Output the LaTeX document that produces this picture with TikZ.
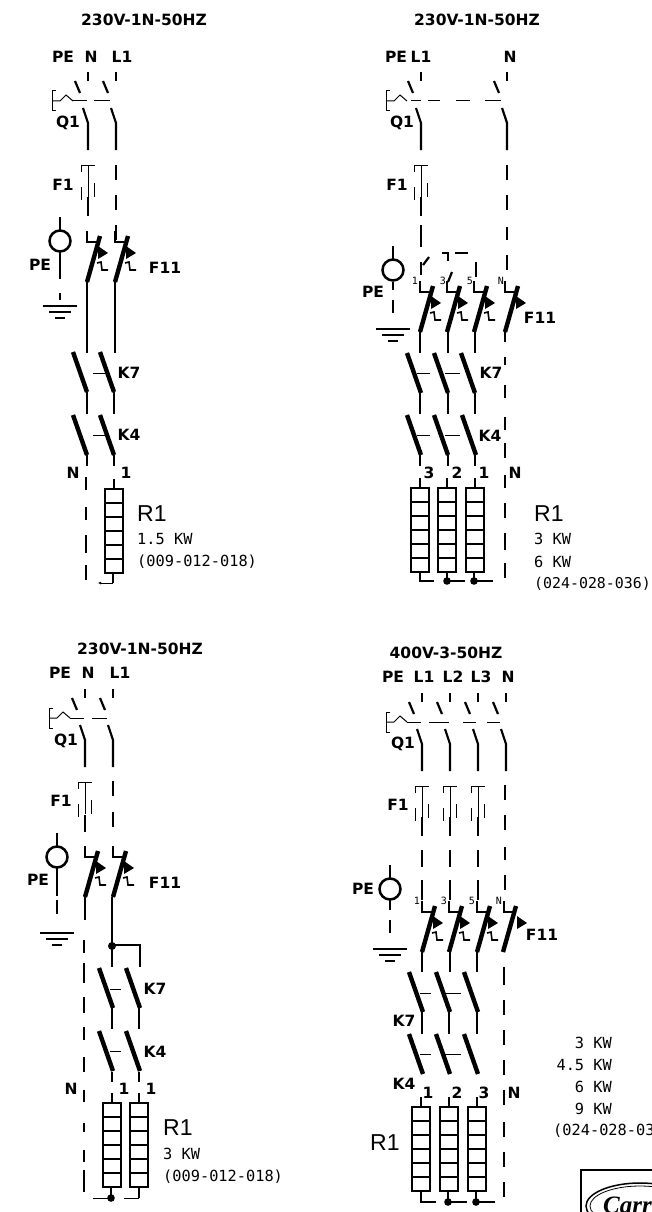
\documentclass[tikz,border=0pt]{standalone}
\usepackage{fontspec}
\usetikzlibrary{arrows.meta}
\setmainfont{DejaVu Sans}
\newfontfamily\monof{DejaVu Sans Mono}
\newfontfamily\rfont{Liberation Sans}
\newfontfamily\logof{Liberation Serif}
\tikzset{
 lab/.style={inner sep=0pt,font=\fontsize{15.5}{17}\selectfont\bfseries},
 big/.style={inner sep=0pt,anchor=west,font=\rfont\fontsize{23}{25}\selectfont},
 val/.style={inner sep=0pt,anchor=west,font=\monof\fontsize{15.3}{17}\selectfont},
 tiny/.style={inner sep=0pt,font=\monof\fontsize{10}{10}\selectfont},
 thn/.style={line width=1pt},
 med/.style={line width=2.2pt},
 thk/.style={line width=4.4pt},
}
% Q1 pole: stub, slanted contact, curved lower contact
\newcommand\qpole[2]{%
 \draw[med] (#1,#2)--(#1,#2+9);
 \draw[med] (#1-13,#2+9)--(#1-8,#2+21);
 \draw[med] (#1-5,#2+36)--(#1,#2+51)--(#1,#2+78);}
% Q1 handle: bracket and wave
\newcommand\qhead[2]{%
 \draw[thn] (#1+4,#2-10)--(#1,#2-10)--(#1,#2+10)--(#1+4,#2+10);
 \draw[thn] (#1,#2)--(#1+8,#2)--(#1+14,#2-6)--(#1+21,#2);}
% fuse
\newcommand\fuse[2]{%
 \draw[thn] (#1-7,#2+7)--(#1-7,#2)--(#1+7,#2);
 \draw[thn] (#1,#2)--(#1,#2+32);
 \draw[thn] (#1-7,#2+22)--(#1-7,#2+35);
 \draw[thn] (#1+6,#2+18)--(#1+6,#2+32);}
% breaker of F11, #2 = lower end
\newcommand\brkr[2]{%
 \draw[med] (#1,#2-51)--(#1,#2-40)--(#1+10,#2-40);
 \draw[thk] (#1,#2)--(#1+13,#2-46);
 \fill (#1+21,#2-29)--(#1+11,#2-36)--(#1+11,#2-23)--cycle;
 \draw[line width=1.6pt] (#1+10,#2-19)--(#1+14,#2-20)--(#1+15,#2-12)--(#1+21,#2-12);}
% contactor pole, #2 = upper end
\newcommand\kpole[2]{\draw[thk] (#1-14,#2)--(#1,#2+40);}
% earth connection
\newcommand\pecirc[2]{%
 \draw[line width=2.5pt] (#1,#2) circle (10.5);
 \draw[med] (#1,#2-11)--(#1,#2-24);}
\newcommand\gnd[2]{%
 \draw[med] (#1-17,#2)--(#1+17,#2);
 \draw[med] (#1-11,#2+6)--(#1+11,#2+6);
 \draw[med] (#1-5,#2+12)--(#1+5,#2+12);}
% heater
\newcommand\heat[2]{%
 \draw[med] (#1,#2) rectangle (#1+18,#2+84);
 \foreach \i in {1,...,5} \draw[med] (#1,#2+14*\i)--(#1+18,#2+14*\i);}
% vertical segments
\newcommand\segs[2]{\foreach \a/\b in {#2} \draw[med] (#1,\a)--(#1,\b);}
\begin{document}
\begin{tikzpicture}[x=1pt,y=-1pt]
\useasboundingbox (0,0) rectangle (652,1212);
\fill[white] (0,0) rectangle (652,1212);
\clip (0,0) rectangle (652,1212);

%% ---------- A ----------
\node[lab] (ta) at (144,20) {230V-1N-50HZ};
\node[lab] (aPE) at (63,57) {PE};
\node[lab] (aN) at (91,57) {N};
\node[lab] (aL) at (122,57) {L1};
\qhead{52}{101}
\qpole{88}{72} \qpole{116}{72}
\draw[thn] (73,101)--(87,101) (94,101)--(110,101);
\node[lab] (aQ) at (68,123) {Q1};
\node[lab] (aF) at (63,185) {F1};
\fuse{88}{165}
\segs{88}{197/216}
\segs{116}{165/180,195/210,225/240}
\pecirc{60}{241}
\node[lab] (aPE2) at (40,265) {PE};
\segs{60}{252/279,293/300}
\gnd{60}{306}
\brkr{87}{282} \brkr{115}{282}
\node[lab] (aF11) at (165,268) {F11};
\segs{87}{282/353} \segs{115}{282/353}
\kpole{87}{352} \kpole{114}{352}
\draw[thn] (93,373)--(106,373);
\node[lab] (aK7) at (129,373) {K7};
\segs{87}{392/414} \segs{114}{392/414}
\kpole{87}{415} \kpole{114}{415}
\draw[thn] (93,435)--(106,435);
\node[lab] (aK4) at (129,435) {K4};
\segs{87}{455/466} \segs{114}{455/466}
\node[lab] (aN2) at (73,473) {N};
\node[lab] (a1) at (126,473) {1};
\segs{114}{479/489}
\heat{105}{489}
\draw[med] (113,573)--(113,583);
\draw[thn,-{Latex[length=3pt,width=3pt]}] (113,583)--(98,583);
\segs{86}{477/490,507/520,535/553,565/580}
\node[big] (aR) at (137,514) {R1};
\node[val] (av1) at (137,539) {1.5 KW};
\node[val] (av2) at (137,562) {(009-012-018)};

%% ---------- B ----------
\node[lab] (tb) at (477,20) {230V-1N-50HZ};
\node[lab] (bPE) at (396,57) {PE};
\node[lab] (bL) at (421,57) {L1};
\node[lab] (bN) at (510,57) {N};
\qhead{386}{101}
\qpole{421}{72} \qpole{507}{72}
\draw[thn] (411,101)--(421,101) (428,101)--(440,101) (456,101)--(470,101) (485,101)--(501,101);
\node[lab] (bQ) at (402,123) {Q1};
\node[lab] (bF) at (397,185) {F1};
\fuse{421}{165}
\segs{421}{197/216,225/247,262/275}
\segs{507}{165/180,195/210,227/240,255/270}
\pecirc{393}{270}
\node[lab] (bPE2) at (373,292) {PE};
\segs{393}{282/290,300/313}
\gnd{393}{329}
\draw[med] (423,265)--(429,257);
\draw[med] (442,253)--(448,253)--(448,261) (455,253)--(468,253);
\segs{476}{262/277}
\draw[med] (448,282)--(452,272);
\node[tiny] (b1) at (415,281) {1};
\node[tiny] (b3) at (443,281) {3};
\node[tiny] (b5) at (470,281) {5};
\node[tiny] (bN3) at (501,281) {N};
\brkr{420}{332} \brkr{447}{332} \brkr{474}{332} 
\draw[med] (505,281)--(505,292)--(515,292);
\draw[thk] (505,332)--(518,286);
\fill (526,303)--(516,296)--(516,309)--cycle;
\node[lab] (bF11) at (540,318) {F11};
\segs{420}{332/353} \segs{448}{332/353} \segs{475}{332/353}
\kpole{421}{353} \kpole{448}{353} \kpole{475}{353}
\draw[thn] (417,373)--(430,373) (445,373)--(460,373);
\node[lab] (bK7) at (491,373) {K7};
\segs{420}{393/414} \segs{448}{393/414} \segs{475}{393/414}
\kpole{421}{415} \kpole{448}{415} \kpole{476}{415}
\draw[thn] (417,435)--(430,435) (445,435)--(460,435);
\node[lab] (bK4) at (490,436) {K4};
\segs{420}{455/466} \segs{448}{455/466} \segs{475}{455/466}
\node[lab] (b3b) at (429,473) {3};
\node[lab] (b2b) at (457,473) {2};
\node[lab] (b1b) at (484,473) {1};
\node[lab] (bN2) at (515,473) {N};
\segs{420}{478/488} \segs{447}{478/488} \segs{475}{478/488}
\heat{411}{488} \heat{438}{488} \heat{466}{488}
\draw[med] (420,572)--(420,581)--(434,581);
\draw[med] (447,572)--(447,581)--(465,581);
\draw[med] (474,572)--(474,581)--(493,581);
\fill (447,581) circle (3.8) (474,581) circle (3.8);
\segs{505}{332/342,357/365,385/398,417/430,443/458,475/488,503/518,533/550,563/578}
\node[big] (bR) at (534,514) {R1};
\node[val] (bv1) at (534,539) {3 KW};
\node[val] (bv2) at (534,562) {6 KW};
\node[val,font=\monof\fontsize{14.9}{17}\selectfont] (bv3) at (534,584) {(024-028-036)};

%% ---------- C ----------
\node[lab] (tc) at (140,649) {230V-1N-50HZ};
\node[lab] (cPE) at (60,673) {PE};
\node[lab] (cN) at (88,673) {N};
\node[lab] (cL) at (120,673) {L1};
\qhead{49}{718}
\qpole{85}{689} \qpole{113}{689}
\draw[thn] (70,718)--(84,718) (92,718)--(107,718);
\node[lab] (cQ) at (66,741) {Q1};
\node[lab] (cF) at (61,801) {F1};
\fuse{85}{782}
\segs{85}{815/832}
\segs{113}{781/796,812/827}
\pecirc{57}{857}
\node[lab] (cPE2) at (38,880) {PE};
\segs{57}{868/896,900/914}
\gnd{57}{933}
\brkr{85}{897} \brkr{113}{897}
\node[lab] (cF11) at (165,883) {F11};
\segs{85}{897/920}
\segs{84}{940/953,963/983,997/1013,1027/1040,1057/1072,1090/1102,1123/1132,1150/1162,1170/1192}
\segs{112}{897/967}
\draw[med] (112,945)--(140,945)--(140,967);
\fill (112,946) circle (4);
\kpole{113}{968} \kpole{140}{968}
\draw[thn] (110,989)--(121,989);
\node[lab] (cK7) at (155,989) {K7};
\segs{112}{1008/1029} \segs{139}{1008/1029}
\kpole{113}{1031} \kpole{140}{1031}
\draw[thn] (110,1051)--(121,1051);
\node[lab] (cK4) at (155,1052) {K4};
\segs{112}{1072/1082} \segs{139}{1072/1082}
\node[lab] (cN2) at (71,1089) {N};
\node[lab] (c1a) at (124,1089) {1};
\node[lab] (c1b) at (151,1089) {1};
\segs{112}{1093/1103} \segs{139}{1093/1103}
\heat{103}{1103} \heat{130}{1103}
\draw[med] (111,1187)--(111,1198);
\draw[thn] (93,1198)--(111,1198);
\fill (111,1198) circle (3.8);
\draw[med] (139,1187)--(139,1198);
\draw[thn] (124,1198)--(139,1198);
\node[big] (cR) at (163,1128) {R1};
\node[val] (cv1) at (163,1154) {3 KW};
\node[val] (cv2) at (163,1177) {(009-012-018)};

%% ---------- D ----------
\node[lab] (td) at (446,653) {400V-3-50HZ};
\node[lab] (dPE) at (393,677) {PE};
\node[lab] (dL1) at (424,677) {L1};
\node[lab] (dL2) at (453,677) {L2};
\node[lab] (dL3) at (481,677) {L3};
\node[lab] (dN) at (508,677) {N};
\qhead{386}{722}
\qpole{422}{693} \qpole{450}{693} \qpole{478}{693} \qpole{506}{693}
\draw[thn] (407,722)--(421,722) (429,722)--(449,722) (463,722)--(476,722) (487,722)--(500,722);
\node[lab] (dQ) at (403,744) {Q1};
\node[lab] (dF) at (398,805) {F1};
\fuse{422}{786} \fuse{450}{786} \fuse{478}{786}
\segs{422}{817/836,850/867,880/900}
\segs{450}{817/836,850/867,880/900}
\segs{478}{817/836,850/867,880/900}
\segs{505}{785/800,815/830,847/860,875/890}
\pecirc{390}{889}
\node[lab] (dPE2) at (363,889) {PE};
\segs{390}{900/910,920/933}
\gnd{390}{949}
\node[tiny] (d1) at (417,901) {1};
\node[tiny] (d3) at (444,901) {3};
\node[tiny] (d5) at (472,901) {5};
\node[tiny] (dN3) at (499,901) {N};
\brkr{422}{952} \brkr{449}{952} \brkr{477}{952}
\draw[med] (504,901)--(504,912)--(514,912);
\draw[thk] (503,952)--(516,906);
\fill (527,923)--(517,916)--(517,929)--cycle;
\node[lab] (dF11) at (542,935) {F11};
\segs{422}{952/972} \segs{450}{952/972} \segs{477}{952/972}
\segs{504}{967/985,1000/1015,1030/1045,1060/1075,1090/1105,1122/1137,1152/1167,1182/1197}
\kpole{423}{972} \kpole{450}{972} \kpole{478}{972}
\draw[thn] (420,993)--(431,993) (445,993)--(461,993);
\node[lab] (dK7) at (404,1021) {K7};
\segs{422}{1012/1034} \segs{449}{1012/1034} \segs{477}{1012/1034}
\kpole{423}{1034} \kpole{450}{1034} \kpole{478}{1034}
\draw[thn] (420,1054)--(431,1054) (445,1054)--(461,1054);
\node[lab] (dK4) at (404,1084) {K4};
\node[lab] (d1b) at (428,1093) {1};
\node[lab] (d2b) at (457,1093) {2};
\node[lab] (d3b) at (484,1093) {3};
\node[lab] (dN2) at (514,1093) {N};
\segs{421}{1097/1107} \segs{449}{1097/1107} \segs{477}{1097/1107}
\heat{412}{1107} \heat{440}{1107} \heat{468}{1107}
\draw[med] (421,1191)--(421,1202)--(436,1202);
\draw[med] (448,1191)--(448,1202)--(467,1202);
\draw[med] (476,1191)--(476,1202)--(495,1202);
\fill (448,1202) circle (3.8) (476,1202) circle (3.8);
\node[big] (dR) at (370,1143) {R1};
\node[val,anchor=east] (dv1) at (612,1043) {3 KW};
\node[val,anchor=east] (dv2) at (612,1065) {4.5 KW};
\node[val,anchor=east] (dv3) at (612,1087) {6 KW};
\node[val,anchor=east] (dv4) at (612,1109) {9 KW};
\node[val] (dv5) at (553,1131) {(024-028-036)};

%% logo
\draw[line width=2.2pt] (581,1260)--(581,1170)--(680,1170);
\draw[line width=1.5pt] (640,1206) ellipse (54 and 23);
\draw[line width=0.8pt] (640,1206) ellipse (50 and 20);
\node[inner sep=0pt,anchor=west,font=\logof\fontsize{25}{27}\selectfont\bfseries\itshape] (logo) at (603,1205) {Carrier};
\end{tikzpicture}
\end{document}
